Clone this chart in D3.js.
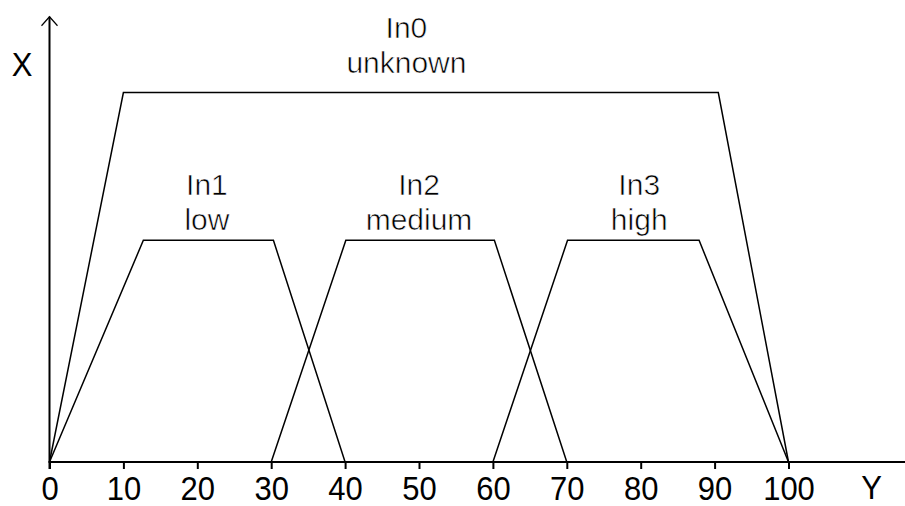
<!DOCTYPE html>
<html>
<head>
<meta charset="utf-8">
<script src="https://cdn.jsdelivr.net/npm/d3@7"></script>
<style>
  html, body { margin: 0; padding: 0; background: #fff; }
  svg { display: block; }
</style>
</head>
<body>
<svg id="chart" width="905" height="506"></svg>
<script>
// ---- data ----
const setNames = ["In0", "In1", "In2", "In3"];
const setLabels = ["unknown", "low", "medium", "high"];
// trapezoid corner x-values: start, top-left, top-right, end
const setCorners = [
  [0, 10, 90.5, 100],
  [0, 12.7, 30.3, 40],
  [30, 40.1, 60.2, 70],
  [60, 70.1, 87.9, 100]
];
const setHeights = [1.0, 0.6, 0.6, 0.6];
const labelX = [48.3, 21.3, 50.0, 79.8];
const labelY = [1.053, 0.628, 0.628, 0.628]; // second-line baseline, in chart units
const xTicks = [0, 10, 20, 30, 40, 50, 60, 70, 80, 90, 100];
const xAxisName = "Y";
const yAxisName = "X";

// ---- drawing ----
const svg = d3.select("#chart");
const x = d3.scaleLinear().domain([0, 100]).range([49.5, 788.5]);
const y = d3.scaleLinear().domain([0, 1]).range([462, 92.5]);
const font = "'Liberation Sans', Arial, sans-serif";

// trapezoids
const line = d3.line().x(d => x(d[0])).y(d => y(d[1]));
setCorners.forEach((c, i) => {
  const h = setHeights[i];
  const pts = [[c[0], 0], [c[1], h], [c[2], h], [c[3], 0]];
  svg.append("path")
    .attr("d", line(pts))
    .attr("fill", "none")
    .attr("stroke", "#000")
    .attr("stroke-width", 1.5)
    .attr("stroke-linejoin", "miter");
});

// set labels (two lines)
setNames.forEach((n, i) => {
  const b2 = y(labelY[i]);
  [[n, b2 - 35], [setLabels[i], b2]].forEach(([t, by]) => {
    svg.append("text")
      .attr("x", x(labelX[i]))
      .attr("y", by)
      .attr("text-anchor", "middle")
      .attr("font-family", font)
      .attr("font-size", 30)
      .attr("fill", "#000")
      .attr("stroke", "#fff")
      .attr("stroke-width", 0.6)
      .text(t);
  });
});

// x axis
const xAxis = d3.axisBottom(x).tickValues(xTicks).tickSize(7).tickSizeOuter(0).tickFormat(d3.format("d"));
const gx = svg.append("g").attr("transform", `translate(0,${y(0)})`).call(xAxis);
gx.select(".domain").remove();
gx.selectAll(".tick line").attr("stroke", "#000").attr("stroke-width", 2);
gx.selectAll(".tick text")
  .attr("y", 0).attr("dy", null)
  .attr("transform", "translate(0,38) scale(1,1.1)")
  .attr("font-family", font)
  .attr("font-size", 31)
  .attr("fill", "#000");

// x axis line extending to the right edge
svg.append("line")
  .attr("x1", x(0) - 1).attr("x2", 905)
  .attr("y1", y(0)).attr("y2", y(0))
  .attr("stroke", "#000").attr("stroke-width", 2);

// y axis line with open arrow
const yTop = y(1.205);
svg.append("line")
  .attr("x1", x(0)).attr("x2", x(0))
  .attr("y1", y(0) + 7).attr("y2", yTop)
  .attr("stroke", "#000").attr("stroke-width", 2);
svg.append("path")
  .attr("d", `M${x(0) - 8},${yTop + 9} L${x(0)},${yTop} L${x(0) + 8},${yTop + 9}`)
  .attr("fill", "none").attr("stroke", "#000").attr("stroke-width", 1.2);

// axis names
svg.append("text")
  .attr("text-anchor", "middle")
  .attr("transform", "translate(22,76) scale(1,1.05)")
  .attr("font-family", font).attr("font-size", 31).attr("fill", "#000")
  .text(yAxisName);
svg.append("text")
  .attr("text-anchor", "middle")
  .attr("transform", "translate(871.5,499) scale(1,1.05)")
  .attr("font-family", font).attr("font-size", 31).attr("fill", "#000")
  .text(xAxisName);
</script>
</body>
</html>
